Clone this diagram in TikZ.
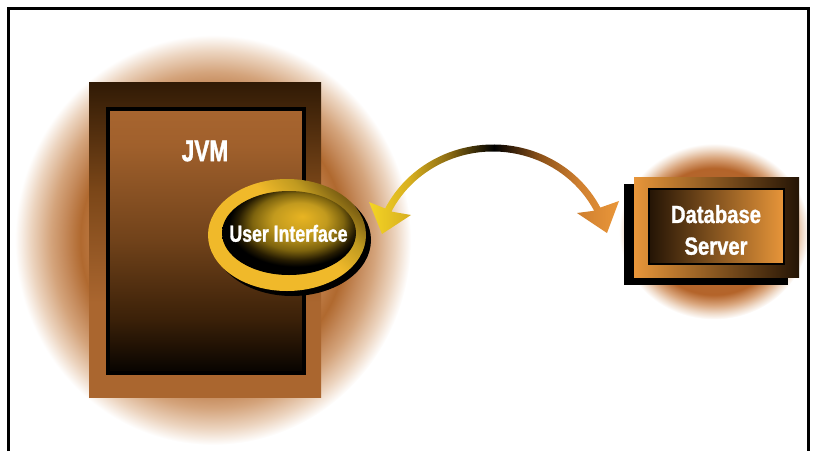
\documentclass[tikz,border=0pt]{standalone}
\usepackage{fontspec}
\usetikzlibrary{shapes.geometric}
\newfontfamily\condA[FakeStretch=0.76,FakeBold=1.2]{Liberation Sans}
\newfontfamily\condB[FakeStretch=0.82,FakeBold=1.2]{Liberation Sans}

% palette
\definecolor{gCore}{HTML}{CF9566}
\definecolor{gIn}{HTML}{C98A58}
\definecolor{gPeak}{HTML}{B0692F}
\definecolor{gOut1}{HTML}{C4895A}
\definecolor{gOut2}{HTML}{D4A47C}
\definecolor{gOut3}{HTML}{ECD4BF}
\definecolor{dbCore}{HTML}{B8703A}
\definecolor{dbPeak}{HTML}{B4642A}
\definecolor{dbOut1}{HTML}{D9A57C}
\definecolor{dbOut2}{HTML}{F0DCCB}
\definecolor{jvBrown}{HTML}{AA662F}
\definecolor{jvMid}{HTML}{7A4618}
\definecolor{jvDark}{HTML}{301A05}
\definecolor{coreTop}{HTML}{A8652F}
\definecolor{coreUp}{HTML}{A0602C}
\definecolor{coreMid}{HTML}{70421A}
\definecolor{coreLow}{HTML}{3A2008}
\definecolor{coreBot}{HTML}{060300}
\definecolor{ringGold}{HTML}{F0B92A}
\definecolor{ringMid}{HTML}{C09A20}
\definecolor{ringDark}{HTML}{7A5E12}
\definecolor{ballHi}{HTML}{E8B422}
\definecolor{ballA}{HTML}{C29A1E}
\definecolor{ballB}{HTML}{7E640E}
\definecolor{ballC}{HTML}{261C02}
\definecolor{dbOrange}{HTML}{E8963A}
\definecolor{dbDark}{HTML}{241405}
\definecolor{arY}{HTML}{F4D424}
\definecolor{arY2}{HTML}{D8B020}
\definecolor{arOd}{HTML}{8A6A12}
\definecolor{arBr}{HTML}{8A5018}
\definecolor{arBr2}{HTML}{D08030}
\definecolor{arO}{HTML}{EA973A}

% shadings
\pgfdeclareradialshading{jvmglow}{\pgfpoint{0bp}{0bp}}{color(0bp)=(gCore); color(13.5bp)=(gIn); color(16.75bp)=(gPeak); color(18.75bp)=(gOut1); color(20.5bp)=(gOut2); color(23bp)=(gOut3); color(25bp)=(white); color(50bp)=(white)}
\pgfdeclareradialshading{dbglow}{\pgfpoint{0bp}{0bp}}{color(0bp)=(dbCore); color(18bp)=(dbPeak); color(21bp)=(dbOut1); color(23.3bp)=(dbOut2); color(25bp)=(white); color(50bp)=(white)}
\pgfdeclareverticalshading{jvmout}{100bp}{color(0bp)=(jvBrown); color(25bp)=(jvBrown); color(40bp)=(jvBrown); color(58bp)=(jvMid); color(75bp)=(jvDark); color(100bp)=(jvDark)}
\pgfdeclareverticalshading{jvmcore}{100bp}{color(0bp)=(coreBot); color(25bp)=(coreBot); color(35bp)=(coreLow); color(50bp)=(coreMid); color(68bp)=(coreUp); color(75bp)=(coreTop); color(100bp)=(coreTop)}
\pgfdeclareverticalshading{uiring}{100bp}{color(0bp)=(ringGold); color(25bp)=(ringGold); color(55bp)=(ringGold); color(66bp)=(ringMid); color(75bp)=(ringDark); color(100bp)=(ringDark)}
\pgfdeclareradialshading{uiball}{\pgfpoint{5bp}{10bp}}{color(0bp)=(ballHi); color(10bp)=(ballA); color(17bp)=(ballB); color(22bp)=(ballC); color(25bp)=(black); color(50bp)=(black)}
\pgfdeclarehorizontalshading{arrowsh}{100bp}{color(0bp)=(arY); color(25bp)=(arY); color(33bp)=(arY2); color(41bp)=(arOd); color(50bp)=(black); color(59bp)=(arBr); color(67bp)=(arBr2); color(75bp)=(arO); color(100bp)=(arO)}

\tikzset{
  glowblob/.style={ellipse, inner sep=0pt, outer sep=0pt, draw=none, shade},
  plainbox/.style={rectangle, inner sep=0pt, outer sep=0pt, draw=none},
  labeltext/.style={text=white, inner sep=0pt},
}

\begin{document}
\begin{tikzpicture}[x=1pt,y=-1pt]
\useasboundingbox (0,0) rectangle (815,451);

% soft halos behind the two components
\node[glowblob, shading=jvmglow, minimum width=396, minimum height=410] (jvmhalo) at (213,240) {};
\node[glowblob, shading=dbglow, minimum width=190, minimum height=176] (dbhalo) at (714,231.5) {};

% outer frame, open at the bottom
\draw[line width=2.7, line join=miter] (8.7,451) -- (8.7,8.7) -- (808.7,8.7) -- (808.7,451);

% JVM container
\node[plainbox, shade, shading=jvmout, minimum width=232, minimum height=315] (jvm) at (205,239.5) {};
\node[plainbox, shade, shading=jvmcore, draw=black, line width=4, minimum width=196, minimum height=264] (jvmcore) at (206,241) {};
\node[labeltext, font=\condA\bfseries\fontsize{29.8}{30}\selectfont] (jvmlabel) at (205,151) {JVM};

% user interface disc
\node[ellipse, inner sep=0pt, fill=black, minimum width=158, minimum height=112] (uishadow) at (292,240) {};
\node[ellipse, inner sep=0pt, shade, shading=uiring, shading angle=-45, minimum width=158, minimum height=112] (ui) at (287,235) {};
\node[ellipse, inner sep=0pt, shade, shading=uiball, minimum width=134, minimum height=84] (uicore) at (289,233) {};
\node[labeltext, font=\condA\bfseries\fontsize{23.3}{24}\selectfont] (uilabel) at (288.5,233.4) {User Interface};

% database server box
\node[plainbox, fill=black, minimum width=164, minimum height=101] (dbshadow) at (706,234.5) {};
\node[plainbox, left color=dbOrange, right color=dbDark, minimum width=165, minimum height=100] (db) at (716.5,227) {};
\node[plainbox, left color=dbDark, right color=dbOrange, draw=black, line width=2.2, minimum width=134.8, minimum height=74.8] (dbcore) at (716.5,226.5) {};
\node[labeltext, align=center, font=\condB\bfseries\fontsize{24.7}{31.7}\selectfont] (dblabel) at (716,230) {Database\\Server};

% two-headed arc between the interface and the server
\coordinate (arcC) at (493,260);
\coordinate (Ltip) at (382,234);
\coordinate (Lout) at (369,202);
\coordinate (Lin)  at (411,215);
\coordinate (Rtip) at (607,233);
\coordinate (Rout) at (619,201);
\coordinate (Rin)  at (577,213);
\path[shade, shading=arrowsh]
  (Ltip) -- (Lout) -- ([shift={(arcC)}]206.5:120.5 and 115.5)
  arc[start angle=206.5, end angle=333, x radius=120.5, y radius=115.5]
  -- (Rout) -- (Rtip) -- (Rin)
  -- ([shift={(arcC)}]333:113.5 and 108.5)
  arc[start angle=333, end angle=206.5, x radius=113.5, y radius=108.5]
  -- (Lin) -- cycle;
\end{tikzpicture}
\end{document}
